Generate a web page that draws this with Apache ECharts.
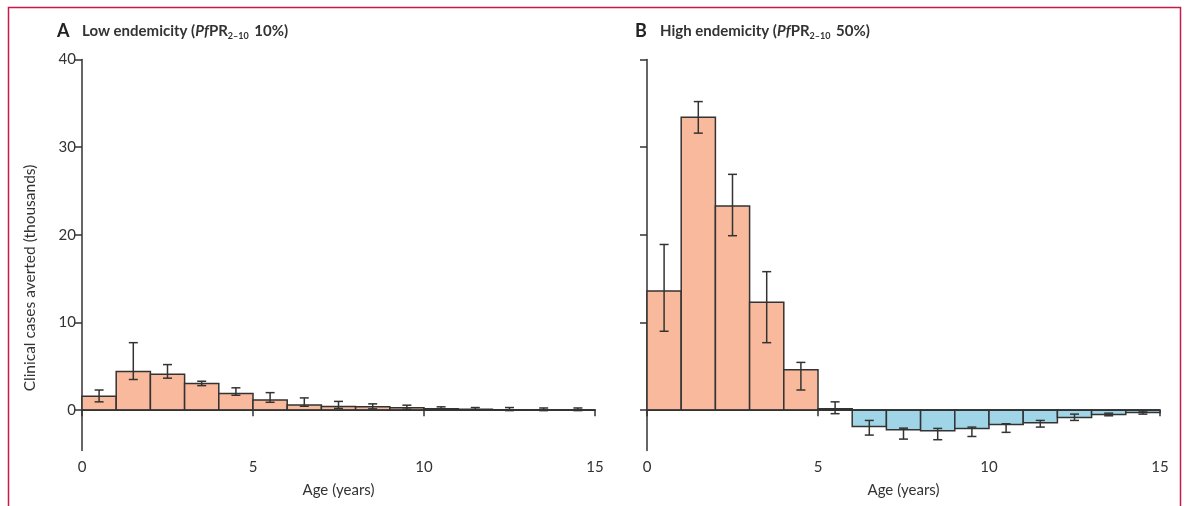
<!DOCTYPE html>
<html lang="en">
  <head>
    <meta charset="UTF-8" />
    <title>Clinical cases averted by age</title>
    <style>
      html,
      body {
        margin: 0;
        width: 100%;
        height: 100%;
        background: #fff;
      }
      #main {
        width: 1187px;
        height: 506px;
      }
    </style>
    <script src="https://cdn.jsdelivr.net/npm/echarts@6/dist/echarts.min.js"></script>
  </head>
  <body>
    <div id="main"></div>
    <script>
      // age bands 0-1, 1-2, ... 14-15 years
      const ages = [0, 1, 2, 3, 4, 5, 6, 7, 8, 9, 10, 11, 12, 13, 14]

      // A: low endemicity (thousands)
      const lowMean = [1.6, 4.4, 4.1, 3.05, 1.9, 1.15, 0.6, 0.42, 0.38, 0.27, 0.15, 0.1, 0.05, 0.03, 0.03]
      const lowLower = [0.95, 3.5, 3.65, 2.8, 1.7, 0.9, 0.45, 0.2, 0.15, 0.1, 0.0, 0.0, -0.05, -0.05, -0.05]
      const lowUpper = [2.3, 7.7, 5.2, 3.3, 2.55, 2.0, 1.4, 1.0, 0.72, 0.57, 0.38, 0.3, 0.3, 0.25, 0.25]

      // B: high endemicity (thousands)
      const highMean = [13.6, 33.4, 23.3, 12.3, 4.6, 0.15, -1.85, -2.23, -2.35, -2.08, -1.63, -1.44, -0.83, -0.49, -0.26]
      const highLower = [9.0, 31.6, 19.9, 7.7, 2.3, -0.4, -2.84, -3.3, -3.37, -3.0, -2.53, -1.93, -1.17, -0.64, -0.45]
      const highUpper = [18.9, 35.2, 26.9, 15.8, 5.45, 0.95, -1.17, -2.05, -2.08, -1.93, -1.55, -1.17, -0.45, -0.34, -0.1]

      const yTicks = [0, 10, 20, 30, 40]

      const FONT = 'Lato'
      const INK = '#333'
      const POS = '#f9b99d'
      const NEG = '#a0d5e8'

      const chart = echarts.init(document.getElementById('main'))

      function rows(mean, lower, upper) {
        return ages.map((a, i) => [a, mean[i], lower[i], upper[i]])
      }

      function renderBar(params, api) {
        const x = api.value(0)
        const v = api.value(1)
        const p0 = api.coord([x, 0])
        const p1 = api.coord([x + 1, v])
        const lo = api.coord([x + 0.5, api.value(2)])
        const hi = api.coord([x + 0.5, api.value(3)])
        const cap = 4.5
        const err = { stroke: INK, lineWidth: 1.5 }
        return {
          type: 'group',
          children: [
            {
              type: 'rect',
              shape: {
                x: p0[0],
                y: Math.min(p0[1], p1[1]),
                width: p1[0] - p0[0],
                height: Math.abs(p1[1] - p0[1])
              },
              style: { fill: v >= 0 ? POS : NEG, stroke: INK, lineWidth: 1.5 }
            },
            { type: 'line', shape: { x1: lo[0], y1: lo[1], x2: hi[0], y2: hi[1] }, style: err },
            { type: 'line', shape: { x1: lo[0] - cap, y1: lo[1], x2: lo[0] + cap, y2: lo[1] }, style: err },
            { type: 'line', shape: { x1: hi[0] - cap, y1: hi[1], x2: hi[0] + cap, y2: hi[1] }, style: err }
          ]
        }
      }

      function xAxis(idx) {
        return {
          type: 'value',
          gridIndex: idx,
          min: 0,
          max: 15,
          interval: 5,
          name: 'Age (years)',
          nameLocation: 'middle',
          nameGap: 32,
          nameTextStyle: { fontFamily: FONT, fontSize: 15, color: INK },
          axisLine: { lineStyle: { color: INK, width: 1.5 } },
          axisTick: { show: true, length: 6, lineStyle: { color: INK, width: 1.5 } },
          axisLabel: { fontFamily: FONT, fontSize: 15, color: INK, margin: 9 },
          splitLine: { show: false }
        }
      }

      function yAxis(idx, labels) {
        return {
          type: 'value',
          gridIndex: idx,
          min: -4.6,
          max: 40,
          axisLine: { show: true, lineStyle: { color: INK, width: 1.5 } },
          axisTick: { show: true, length: 7, customValues: yTicks, lineStyle: { color: INK, width: 1.5 } },
          axisLabel: { show: labels, customValues: yTicks, fontFamily: FONT, fontSize: 15, color: INK, margin: 6 },
          splitLine: { show: false }
        }
      }

      function panelTitle(letter, text, pct, left) {
        return {
          left: left,
          top: 15,
          text: '{a|' + letter + '}{t|' + text + ' (}{i|Pf}{t|PR}{s|2–10}{t| ' + pct + ')}',
          textStyle: {
            rich: {
              a: { fontFamily: FONT, fontWeight: 'bold', fontSize: 18, color: '#222', width: 25, lineHeight: 22 },
              t: { fontFamily: FONT, fontWeight: 'bold', fontSize: 15, color: '#333', lineHeight: 22 },
              i: { fontFamily: FONT, fontWeight: 'bold', fontStyle: 'italic', fontSize: 15, color: '#333', lineHeight: 22 },
              s: { fontFamily: FONT, fontWeight: 'bold', fontSize: 9, color: '#333', padding: [10, 2, 0, 0], lineHeight: 22 }
            }
          }
        }
      }

      const zeroLine = {
        silent: true,
        symbol: 'none',
        label: { show: false },
        lineStyle: { color: INK, type: 'solid', width: 1.5 },
        data: [{ yAxis: 0 }]
      }

      const options = {
        animation: false,
        title: [
          panelTitle('A', 'Low endemicity', '10%', 52),
          panelTitle('B', 'High endemicity', '50%', 630)
        ],
        grid: [
          { left: 82, right: 592, top: 59.5, bottom: 55.5 },
          { left: 647, right: 27, top: 59.5, bottom: 55.5 }
        ],
        xAxis: [xAxis(0), xAxis(1)],
        yAxis: [yAxis(0, true), yAxis(1, false)],
        series: [
          {
            type: 'custom',
            xAxisIndex: 0,
            yAxisIndex: 0,
            renderItem: renderBar,
            data: rows(lowMean, lowLower, lowUpper),
            markLine: zeroLine
          },
          {
            type: 'custom',
            xAxisIndex: 1,
            yAxisIndex: 1,
            renderItem: renderBar,
            data: rows(highMean, highLower, highUpper),
            markLine: zeroLine
          }
        ],
        graphic: [
          {
            type: 'polyline',
            shape: { points: [[8.5, 510], [8.5, 7.5], [1180.5, 7.5], [1180.5, 510]] },
            style: { stroke: '#c8194b', lineWidth: 1.5, fill: null }
          },
          {
            type: 'text',
            x: 30,
            y: 278,
            rotation: Math.PI / 2,
            style: {
              text: 'Clinical cases averted (thousands)',
              fontFamily: FONT,
              fontSize: 15.5,
              fill: INK,
              align: 'center',
              verticalAlign: 'middle'
            }
          }
        ]
      }
      chart.setOption(options)
    </script>
  </body>
</html>
